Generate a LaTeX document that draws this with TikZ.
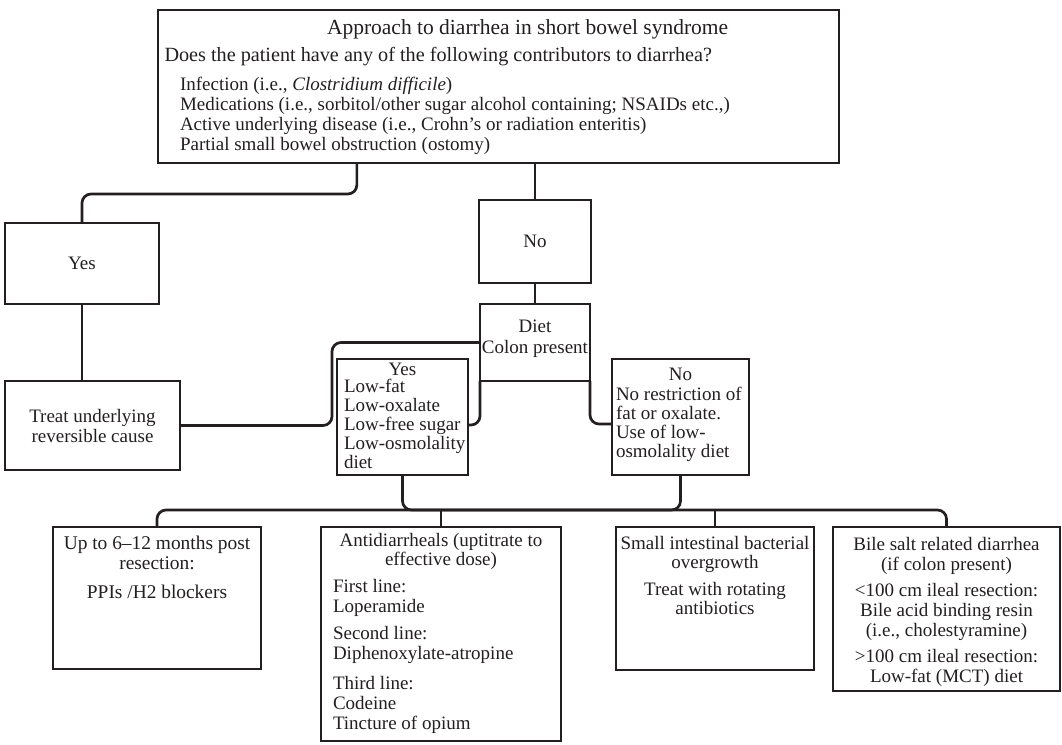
\documentclass[tikz,border=0pt]{standalone}
\usepackage{fontspec}
\setmainfont{Liberation Serif}
\usetikzlibrary{calc}
\definecolor{ink}{HTML}{231F20}
\tikzset{
  box/.style={draw=ink, line width=2.8pt, rectangle, inner sep=0pt, outer sep=0pt,
              text=ink, font=\fontsize{19}{20}\selectfont},
  line/.style={draw=ink, line width=2.7pt},
  conn/.style={line, rounded corners=9pt},
}
\begin{document}
\begin{tikzpicture}[x=1pt,y=-1pt]
\useasboundingbox[fill=white] (0,0) rectangle (1062,744);

% top box
\node[box] (top) at (498.5,86.5) {\parbox[c][153pt][t]{681pt}{%
  \raggedright\leftskip=169pt\fontsize{21.5}{24}\selectfont\rule{0pt}{24pt}Approach to diarrhea in short bowel syndrome\par
  \leftskip=6.5pt\fontsize{20.2}{27}\selectfont Does the patient have any of the following contributors to diarrhea?\par
  \vspace{9pt}\leftskip=22pt\fontsize{19}{20}\selectfont
  Infection (i.e., \textit{Clostridium difficile})\\
  Medications (i.e., sorbitol/other sugar alcohol containing; NSAIDs etc.,)\\
  Active underlying disease (i.e., Crohn’s or radiation enteritis)\\
  Partial small bowel obstruction (ostomy)\par}};

\node[box, minimum width=154pt, minimum height=81pt] (yes) at (82,263.5) {Yes};
\node[box, minimum width=112pt, minimum height=83pt] (no) at (535,241.5) {No};
\node[box, minimum width=175pt, minimum height=89pt, align=center] (treat) at (92.5,425.5)
  {Treat underlying\\reversible cause};

\node[box] (diet) at (535,342.5) {\parbox[c][77pt][t]{110pt}{%
  \centering\fontsize{19}{21}\selectfont\rule{0pt}{28pt}Diet\\Colon present\par}};

\node[box] (dyes) at (402.5,417) {\parbox[c][116pt][t]{131pt}{%
  \centering\fontsize{19}{17}\selectfont\rule{0pt}{16pt}Yes\par
  \vspace{-2pt}\raggedright\leftskip=7pt\fontsize{19}{19}\selectfont
  Low-fat\\Low-oxalate\\Low-free sugar\\Low-osmolality\\diet\par}};

\node[box] (dno) at (680.5,417) {\parbox[c][116pt][t]{137pt}{%
  \centering\fontsize{19}{20}\selectfont\rule{0pt}{21pt}No\par
  \raggedright\leftskip=4pt\fontsize{19}{19}\selectfont\vspace{1pt}
  No restriction of\\fat or oxalate.\\Use of low-\\osmolality diet\par}};

% bottom row
\node[box] (ppi) at (157,598) {\parbox[c][142pt][t]{208pt}{%
  \centering\fontsize{19.4}{20}\selectfont\rule{0pt}{22pt}Up to 6–12 months post\\resection:\\[9pt]PPIs /H2 blockers\par}};

\node[box] (anti) at (441,634) {\parbox[c][214pt][t]{240pt}{%
  \centering\fontsize{19}{19}\selectfont\rule{0pt}{19pt}Antidiarrheals (uptitrate to\\effective dose)\par
  \raggedright\leftskip=12pt\fontsize{19}{20}\selectfont\vspace{7pt}
  First line:\\Loperamide\\[7pt]Second line:\\Diphenoxylate-atropine\\[10pt]Third line:\\Codeine\\Tincture of opium\par}};

\node[box] (small) at (715,598.5) {\parbox[c][143pt][t]{198pt}{%
  \centering\fontsize{19}{19.5}\selectfont\rule{0pt}{22pt}Small intestinal bacterial\\overgrowth\\[7pt]Treat with rotating\\antibiotics\par}};

\node[box] (bile) at (946.5,609) {\parbox[c][164pt][t]{227pt}{%
  \centering\fontsize{19}{20}\selectfont\rule{0pt}{23pt}Bile salt related diarrhea\\(if colon present)\\[6pt]%
  <100 cm ileal resection:\\Bile acid binding resin\\(i.e., cholestyramine)\\[6pt]%
  >100 cm ileal resection:\\Low-fat (MCT) diet\par}};

% connectors
\coordinate (tY) at ($(top.south west)!0.292!(top.south east)$);
\draw[conn] (tY) -- ++(0,31) -| (yes.north);
\draw[line] (top.south -| no.north) -- (no.north);
\draw[line] (yes.south) -- (yes.south |- treat.north);
\draw[line] (no.south) -- (diet.north);
\draw[conn] (diet.west) -- ++(-148,0) |- (treat.east);
\draw[conn] (diet.south west) |- ([yshift=-8pt]dyes.east);
\draw[conn] (diet.south east) |- ([yshift=-7pt]dno.west);

\coordinate (busy) at (0,510);
\draw[conn] (ppi.north) -- (ppi.north |- busy) -- (bile.north |- busy) -- (bile.north);
\draw[conn] (dyes.south) |- (anti.north |- busy);
\draw[conn] (dno.south) |- (anti.north |- busy);
\draw[line] (anti.north |- busy) -- (anti.north);
\draw[line] (small.north |- busy) -- (small.north);
\end{tikzpicture}
\end{document}
